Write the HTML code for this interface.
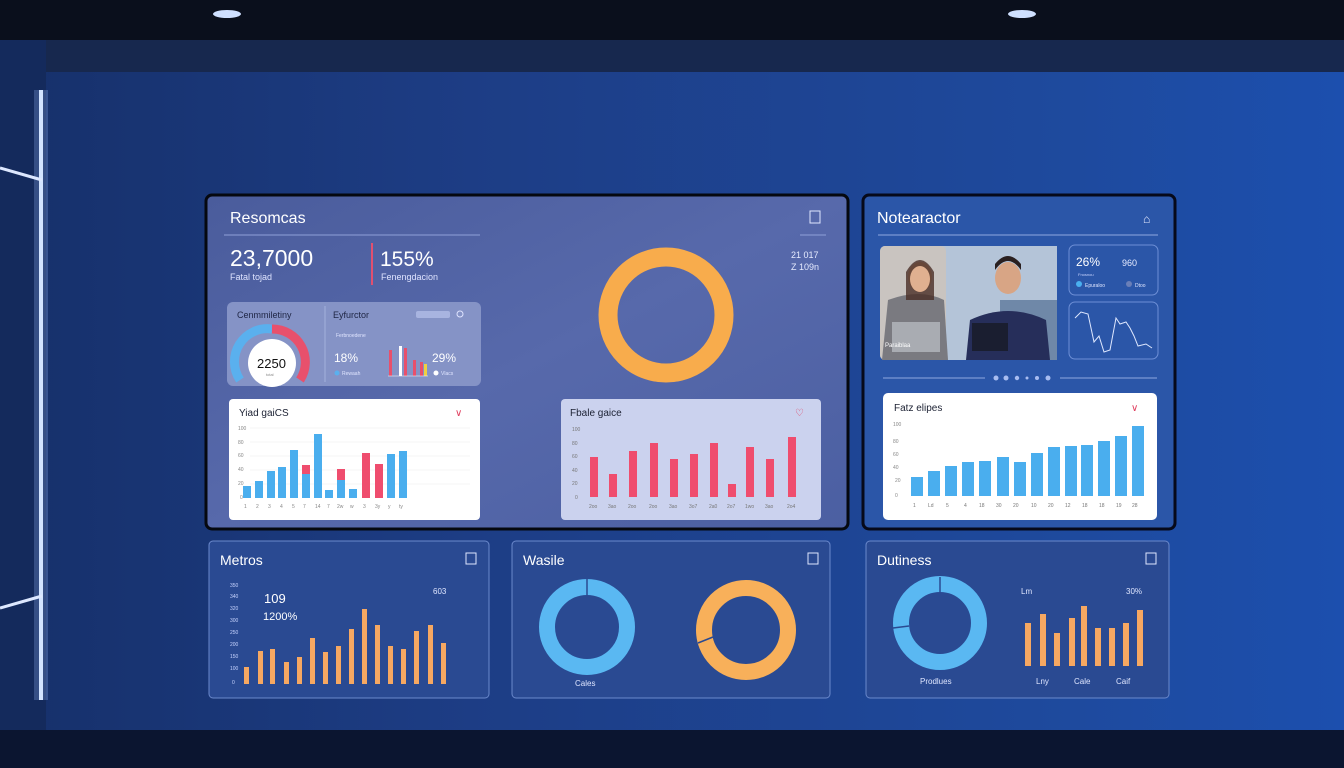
<!DOCTYPE html>
<html><head><meta charset="utf-8"><style>
html,body{margin:0;padding:0;width:1344px;height:768px;overflow:hidden;background:#1b3a80}
svg{display:block}
text{font-family:"Liberation Sans",sans-serif}
</style></head><body>
<svg width="1344" height="768" viewBox="0 0 1344 768" xmlns="http://www.w3.org/2000/svg">
<defs>
<linearGradient id="wall" x1="0" y1="0" x2="1" y2="0">
<stop offset="0" stop-color="#16306a"/><stop offset="0.35" stop-color="#1d3d85"/><stop offset="0.8" stop-color="#1e4a9e"/><stop offset="1" stop-color="#1c4fae"/></linearGradient>
<linearGradient id="main" x1="0" y1="0" x2="1" y2="1">
<stop offset="0" stop-color="#4a5c9c"/><stop offset="0.5" stop-color="#5769ab"/><stop offset="1" stop-color="#4b5fa2"/></linearGradient>
<radialGradient id="glow" cx="0.5" cy="0.5" r="0.5"><stop offset="0" stop-color="#cfe4ff"/><stop offset="1" stop-color="#cfe4ff" stop-opacity="0"/></radialGradient>
</defs>
<rect width="1344" height="768" fill="url(#wall)"/>
<rect width="1344" height="40" fill="#0a0f1c"/>
<rect y="40" width="1344" height="32" fill="#17284e"/>
<rect y="730" width="1344" height="38" fill="#0b1530"/>
<rect x="0" y="40" width="46" height="690" fill="#142a5c"/>
<ellipse cx="227" cy="14" rx="14" ry="4" fill="#cfe0ff"/>
<ellipse cx="1022" cy="14" rx="14" ry="4" fill="#cfe0ff"/>
<rect x="39" y="90" width="4" height="610" fill="#e6f0ff"/>
<rect x="34" y="90" width="14" height="610" fill="#9cc0ff" opacity="0.25"/>
<line x1="0" y1="168" x2="42" y2="180" stroke="#dde8ff" stroke-width="3"/>
<line x1="0" y1="608" x2="42" y2="596" stroke="#dde8ff" stroke-width="3"/>

<!-- Main panel -->
<rect x="206" y="195" width="642" height="334" rx="6" fill="url(#main)" stroke="#05080f" stroke-width="3"/>
<text x="230" y="223" font-size="16" fill="#fff">Resomcas</text>
<line x1="224" y1="235" x2="480" y2="235" stroke="#8fa0d8" stroke-width="1"/>
<line x1="800" y1="235" x2="826" y2="235" stroke="#8fa0d8" stroke-width="1"/>
<rect x="810" y="211" width="10" height="12" fill="none" stroke="#dfe6ff" stroke-width="1"/>
<text x="230" y="266" font-size="23" fill="#fff">23,7000</text>
<text x="230" y="280" font-size="9" fill="#dfe4ff">Fatal tojad</text>
<line x1="372" y1="243" x2="372" y2="285" stroke="#e05070" stroke-width="2"/>
<text x="380" y="266" font-size="21" fill="#fff">155%</text>
<text x="381" y="280" font-size="9" fill="#dfe4ff">Fenengdacion</text>
<text x="791" y="258" font-size="9" fill="#e6ebff">21 017</text>
<text x="791" y="270" font-size="9" fill="#e6ebff">Z 109n</text>
<circle cx="666" cy="315" r="58" fill="none" stroke="#f8ac4c" stroke-width="19"/>

<rect x="227" y="302" width="254" height="84" rx="6" fill="#8593c6"/>
<line x1="325" y1="306" x2="325" y2="382" stroke="#a4b0dc"/>
<text x="237" y="318" font-size="9" fill="#1e2544">Cenmmiletiny</text>
<text x="333" y="318" font-size="9" fill="#1e2544">Eyfurctor</text>
<rect x="416" y="311" width="34" height="7" rx="2" fill="#a8b4e0"/>
<circle cx="460" cy="314" r="3" fill="none" stroke="#dfe4ff"/>
<path d="M240 380 A33 33 0 0 1 272 329" fill="none" stroke="#5ab0ee" stroke-width="9"/>
<path d="M272 329 A33 33 0 0 1 300 380" fill="none" stroke="#e8506c" stroke-width="9"/>
<circle cx="272" cy="363" r="24" fill="#fff"/>
<text x="257" y="368" font-size="13" fill="#111">2250</text>
<text x="266" y="376" font-size="4" fill="#888">total</text>
<text x="334" y="362" font-size="12" fill="#fff">18%</text>
<text x="432" y="362" font-size="12" fill="#fff">29%</text>
<text x="336" y="337" font-size="5" fill="#e0e5ff">Ferbnoedene</text>
<circle cx="337" cy="373" r="2.5" fill="#5ab0ee"/><text x="342" y="375" font-size="5" fill="#e0e5ff">Rewaah</text>
<circle cx="436" cy="373" r="2.5" fill="#fff"/><text x="441" y="375" font-size="5" fill="#e0e5ff">Vlacs</text>
<g fill="#e8506c"><rect x="389" y="350" width="3" height="26"/><rect x="399" y="346" width="3" height="30" fill="#fff"/><rect x="404" y="348" width="3" height="28"/><rect x="413" y="360" width="3" height="16"/><rect x="420" y="362" width="3" height="14"/></g>
<rect x="424" y="364" width="3" height="12" fill="#f0d040"/>
<line x1="388" y1="376" x2="428" y2="376" stroke="#fff" stroke-width="0.6"/>

<!-- blue bar card -->
<rect x="229" y="399" width="251" height="121" rx="4" fill="#fff"/>
<text x="239" y="416" font-size="10" fill="#1c2133">Yiad gaiCS</text>
<text x="455" y="416" font-size="10" fill="#e04060">∨</text>
<g font-size="5" fill="#888"><text x="238" y="430">100</text><text x="238" y="444">80</text><text x="238" y="457">60</text><text x="238" y="471">40</text><text x="238" y="485">20</text><text x="240" y="499">0</text></g>
<g stroke="#eee" stroke-width="0.6"><line x1="250" y1="428" x2="470" y2="428"/><line x1="250" y1="442" x2="470" y2="442"/><line x1="250" y1="456" x2="470" y2="456"/><line x1="250" y1="470" x2="470" y2="470"/><line x1="250" y1="484" x2="470" y2="484"/></g>
<g fill="#4aaeee">
<rect x="243" y="486" width="8" height="12"/><rect x="255" y="481" width="8" height="17"/><rect x="267" y="471" width="8" height="27"/><rect x="278" y="467" width="8" height="31"/><rect x="290" y="450" width="8" height="48"/><rect x="302" y="474" width="8" height="24"/><rect x="314" y="434" width="8" height="64"/><rect x="325" y="490" width="8" height="8"/><rect x="337" y="480" width="8" height="18"/><rect x="349" y="489" width="8" height="9"/><rect x="387" y="454" width="8" height="44"/><rect x="399" y="451" width="8" height="47"/></g>
<g fill="#ef4d6e"><rect x="302" y="465" width="8" height="9"/><rect x="337" y="469" width="8" height="11"/><rect x="362" y="453" width="8" height="45"/><rect x="375" y="464" width="8" height="34"/></g>
<g font-size="5" fill="#888"><text x="244" y="508">1</text><text x="256" y="508">2</text><text x="268" y="508">3</text><text x="280" y="508">4</text><text x="292" y="508">5</text><text x="303" y="508">7</text><text x="315" y="508">14</text><text x="327" y="508">7</text><text x="337" y="508">2w</text><text x="350" y="508">w</text><text x="363" y="508">3</text><text x="375" y="508">3y</text><text x="388" y="508">y</text><text x="399" y="508">ty</text></g>

<!-- red bar card -->
<rect x="561" y="399" width="260" height="121" rx="4" fill="#cbd2ee"/>
<text x="570" y="416" font-size="10" fill="#1c2133">Fbale gaice</text>
<text x="795" y="416" font-size="10" fill="#e04060">♡</text>
<g font-size="5" fill="#777"><text x="572" y="431">100</text><text x="572" y="445">80</text><text x="572" y="458">60</text><text x="572" y="472">40</text><text x="572" y="485">20</text><text x="575" y="499">0</text></g>
<g fill="#ef4d6e">
<rect x="508" y="457" width="0" height="0"/>
<rect x="508" y="0" width="0" height="0"/>
<rect x="508" y="0" width="0" height="0"/>
<rect x="508" y="0" width="0" height="0"/>
<rect x="508" y="0" width="0" height="0"/>
<rect x="508" y="0" width="0" height="0"/>
<rect x="508" y="0" width="0" height="0"/>
<rect x="508" y="0" width="0" height="0"/>
<rect x="508" y="0" width="0" height="0"/>
<rect x="508" y="0" width="0" height="0"/>
<rect x="508" y="0" width="0" height="0"/>
<rect x="590" y="457" width="8" height="40"/><rect x="609" y="474" width="8" height="23"/><rect x="629" y="451" width="8" height="46"/><rect x="650" y="443" width="8" height="54"/><rect x="670" y="459" width="8" height="38"/><rect x="690" y="454" width="8" height="43"/><rect x="710" y="443" width="8" height="54"/><rect x="728" y="484" width="8" height="13"/><rect x="746" y="447" width="8" height="50"/><rect x="766" y="459" width="8" height="38"/><rect x="788" y="437" width="8" height="60"/></g>
<g font-size="5" fill="#777"><text x="589" y="508">2oo</text><text x="608" y="508">3ao</text><text x="628" y="508">2oo</text><text x="649" y="508">2oo</text><text x="669" y="508">3ao</text><text x="689" y="508">3o7</text><text x="709" y="508">2a0</text><text x="727" y="508">2o7</text><text x="745" y="508">1wo</text><text x="765" y="508">3ao</text><text x="787" y="508">2o4</text></g>

<!-- Right panel -->
<rect x="863" y="195" width="312" height="334" rx="6" fill="#2b56a8" stroke="#06091a" stroke-width="3"/>
<text x="877" y="223" font-size="16" fill="#fff">Notearactor</text>
<text x="1143" y="223" font-size="12" fill="#e6ebff">⌂</text>
<line x1="878" y1="235" x2="1158" y2="235" stroke="#8fa8e0"/>
<rect x="880" y="246" width="177" height="114" rx="5" fill="#b8c4d4"/>
<rect x="880" y="246" width="66" height="114" rx="5" fill="#c9c4c0"/>
<rect x="946" y="246" width="111" height="114" fill="#b4c4d8"/>
<rect x="1000" y="300" width="57" height="60" fill="#6f88a8"/>
<path d="M882 360 L888 300 Q920 288 944 300 L948 360 Z" fill="#7a7a80"/>
<rect x="892" y="322" width="48" height="30" fill="#a9acb2"/>
<ellipse cx="920" cy="277" rx="12" ry="15" fill="#d9a888"/>
<path d="M906 272 Q920 248 934 272 L934 300 L906 300 Z" fill="#4a2e26" opacity="0.8"/>
<ellipse cx="920" cy="279" rx="10" ry="13" fill="#e0b090"/>
<path d="M966 360 L970 320 Q1008 302 1046 320 L1050 360 Z" fill="#262e5a"/>
<ellipse cx="1008" cy="278" rx="13" ry="16" fill="#d8a585"/>
<path d="M995 270 Q1008 252 1021 270 L1021 264 Q1008 248 995 264Z" fill="#2a2020"/>
<rect x="972" y="323" width="36" height="28" fill="#1a1e30"/>
<text x="885" y="347" font-size="6" fill="#fff">Paraiblaa</text>
<rect x="1069" y="245" width="89" height="50" rx="6" fill="none" stroke="#6e8fd6"/>
<text x="1076" y="266" font-size="12" fill="#fff">26%</text>
<text x="1122" y="266" font-size="9" fill="#e6ebff">960</text>
<text x="1078" y="276" font-size="4" fill="#c8d4ff">Fnosnou</text>
<circle cx="1079" cy="284" r="3" fill="#4ab0f0"/><text x="1085" y="287" font-size="5" fill="#dfe6ff">Epuraloo</text>
<circle cx="1129" cy="284" r="3" fill="#6a7fb8"/><text x="1135" y="287" font-size="5" fill="#dfe6ff">Dtoo</text>
<rect x="1069" y="302" width="89" height="57" rx="6" fill="none" stroke="#6e8fd6"/>
<polyline points="1075,318 1081,312 1088,314 1094,342 1099,336 1104,352 1110,350 1116,318 1120,324 1126,322 1130,328 1134,336 1138,346 1146,344 1152,348" fill="none" stroke="#dfe8ff" stroke-width="1"/>
<line x1="883" y1="378" x2="985" y2="378" stroke="#8fa8e0"/><line x1="1060" y1="378" x2="1157" y2="378" stroke="#8fa8e0"/>
<g fill="#a8bcf0"><circle cx="996" cy="378" r="2.5"/><circle cx="1006" cy="378" r="2.5"/><circle cx="1017" cy="378" r="2.2"/><circle cx="1027" cy="378" r="1.5"/><circle cx="1037" cy="378" r="2"/><circle cx="1048" cy="378" r="2.5"/></g>
<rect x="883" y="393" width="274" height="127" rx="5" fill="#fff"/>
<text x="894" y="411" font-size="10" fill="#1c2133">Fatz elipes</text>
<text x="1131" y="411" font-size="10" fill="#e04060">∨</text>
<g font-size="5" fill="#888"><text x="893" y="426">100</text><text x="893" y="443">80</text><text x="893" y="456">60</text><text x="893" y="469">40</text><text x="895" y="482">20</text><text x="895" y="497">0</text></g>
<g fill="#4aaeee">
<rect x="911" y="477" width="12" height="19"/><rect x="928" y="471" width="12" height="25"/><rect x="945" y="466" width="12" height="30"/><rect x="962" y="462" width="12" height="34"/><rect x="979" y="461" width="12" height="35"/><rect x="997" y="457" width="12" height="39"/><rect x="1014" y="462" width="12" height="34"/><rect x="1031" y="453" width="12" height="43"/><rect x="1048" y="447" width="12" height="49"/><rect x="1065" y="446" width="12" height="50"/><rect x="1081" y="445" width="12" height="51"/><rect x="1098" y="441" width="12" height="55"/><rect x="1115" y="436" width="12" height="60"/><rect x="1132" y="426" width="12" height="70"/></g>
<g font-size="5" fill="#777"><text x="913" y="507">1</text><text x="928" y="507">Ld</text><text x="946" y="507">5</text><text x="964" y="507">4</text><text x="979" y="507">18</text><text x="996" y="507">30</text><text x="1013" y="507">20</text><text x="1031" y="507">10</text><text x="1048" y="507">20</text><text x="1065" y="507">12</text><text x="1082" y="507">18</text><text x="1099" y="507">18</text><text x="1116" y="507">19</text><text x="1132" y="507">28</text></g>

<!-- Bottom panels -->
<rect x="209" y="541" width="280" height="157" rx="4" fill="#2a4a92" stroke="#6b89cc" stroke-width="1"/>
<text x="220" y="565" font-size="14" fill="#fff">Metros</text>
<rect x="466" y="553" width="10" height="11" fill="none" stroke="#dfe6ff"/>
<text x="264" y="603" font-size="13" fill="#fff">109</text>
<text x="263" y="620" font-size="11" fill="#fff">1200%</text>
<text x="433" y="594" font-size="8" fill="#dfe6ff">603</text>
<g font-size="5" fill="#c8d4ff"><text x="230" y="587">350</text><text x="230" y="598">340</text><text x="230" y="610">320</text><text x="230" y="622">300</text><text x="230" y="634">250</text><text x="230" y="646">200</text><text x="230" y="658">150</text><text x="230" y="670">100</text><text x="232" y="684">0</text></g>
<g fill="#f6a862">
<rect x="244" y="667" width="5" height="17"/><rect x="258" y="651" width="5" height="33"/><rect x="270" y="649" width="5" height="35"/><rect x="284" y="662" width="5" height="22"/><rect x="297" y="657" width="5" height="27"/><rect x="310" y="638" width="5" height="46"/><rect x="323" y="652" width="5" height="32"/><rect x="336" y="646" width="5" height="38"/><rect x="349" y="629" width="5" height="55"/><rect x="362" y="609" width="5" height="75"/><rect x="375" y="625" width="5" height="59"/><rect x="388" y="646" width="5" height="38"/><rect x="401" y="649" width="5" height="35"/><rect x="414" y="631" width="5" height="53"/><rect x="428" y="625" width="5" height="59"/><rect x="441" y="643" width="5" height="41"/></g>

<rect x="512" y="541" width="318" height="157" rx="4" fill="#2a4a92" stroke="#6b89cc" stroke-width="1"/>
<text x="523" y="565" font-size="14" fill="#fff">Wasile</text>
<rect x="808" y="553" width="10" height="11" fill="none" stroke="#dfe6ff"/>
<circle cx="587" cy="627" r="40" fill="none" stroke="#5ab8f2" stroke-width="16"/>
<line x1="587" y1="579" x2="587" y2="595" stroke="#2a4a92" stroke-width="1.5"/>
<text x="575" y="686" font-size="8" fill="#dfe6ff">Cales</text>
<circle cx="746" cy="630" r="42" fill="none" stroke="#f8b05a" stroke-width="16"/>
<line x1="698" y1="643" x2="713" y2="637" stroke="#2a4a92" stroke-width="1.5"/>

<rect x="866" y="541" width="303" height="157" rx="4" fill="#2a4a92" stroke="#6b89cc" stroke-width="1"/>
<text x="877" y="565" font-size="14" fill="#fff">Dutiness</text>
<rect x="1146" y="553" width="10" height="11" fill="none" stroke="#dfe6ff"/>
<circle cx="940" cy="623" r="39" fill="none" stroke="#5ab8f2" stroke-width="16"/>
<line x1="940" y1="577" x2="940" y2="593" stroke="#2a4a92" stroke-width="1.5"/>
<line x1="893" y1="628" x2="909" y2="626" stroke="#2a4a92" stroke-width="1.5"/>
<text x="920" y="684" font-size="8" fill="#dfe6ff">Prodlues</text>
<text x="1021" y="594" font-size="8" fill="#dfe6ff">Lm</text>
<text x="1126" y="594" font-size="8" fill="#dfe6ff">30%</text>
<g fill="#f6a862">
<rect x="1025" y="623" width="6" height="43"/><rect x="1040" y="614" width="6" height="52"/><rect x="1054" y="633" width="6" height="33"/><rect x="1069" y="618" width="6" height="48"/><rect x="1081" y="606" width="6" height="60"/><rect x="1095" y="628" width="6" height="38"/><rect x="1109" y="628" width="6" height="38"/><rect x="1123" y="623" width="6" height="43"/><rect x="1137" y="610" width="6" height="56"/></g>
<g font-size="8" fill="#dfe6ff"><text x="1036" y="684">Lny</text><text x="1074" y="684">Cale</text><text x="1116" y="684">Caif</text></g>
</svg>
</body></html>
